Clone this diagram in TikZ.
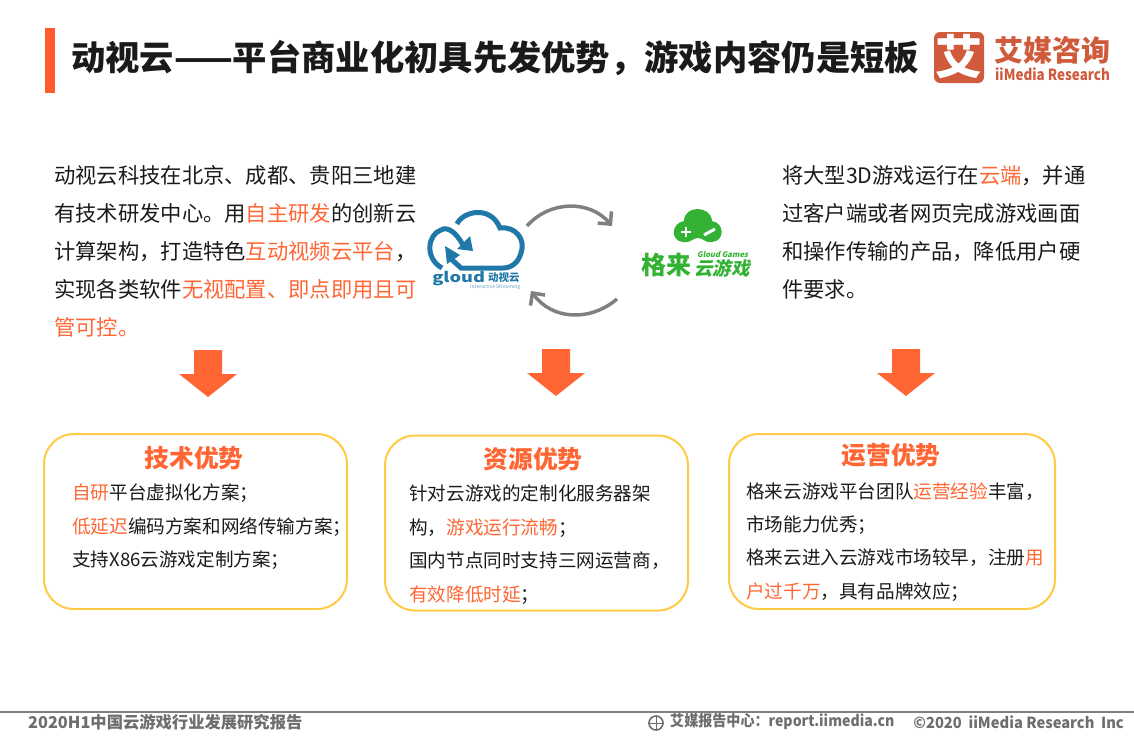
\documentclass[tikz,border=0pt]{standalone}
\usepackage{fontspec}
\setmainfont{Noto Sans CJK SC}
\newfontfamily\slantfont[FakeSlant=0.22]{Noto Sans CJK SC}
\usepackage{xcolor}
\usetikzlibrary{arrows.meta, positioning}
\definecolor{hot}{HTML}{FF6633}
\definecolor{edgey}{HTML}{FFCB45}
\definecolor{inkb}{HTML}{1A1A1A}
\definecolor{logor}{HTML}{CF5B3C}
\definecolor{cloudb}{HTML}{1F78A8}
\definecolor{cloudg}{HTML}{33B233}
\definecolor{loopg}{HTML}{808080}
\definecolor{footg}{HTML}{6E6E6E}
\newcommand{\hl}[1]{\textcolor{hot}{#1}}
\tikzset{
	para/.style={anchor=north west, inner sep=0pt, align=left, text=inkb, font=\fontsize{21.3}{38}\selectfont},
	boxtext/.style={anchor=north west, inner sep=0pt, align=left, text=inkb, font=\fontsize{18.6}{33.4}\selectfont},
	boxhead/.style={inner sep=0pt, text=hot, font=\fontsize{24.7}{28}\selectfont\bfseries},
	card/.style={draw=edgey, line width=2pt, rounded corners=30pt, minimum height=175pt, inner sep=0pt},
	loop/.style={draw=loopg, line width=3.5pt, -{Straight Barb[length=9pt,width=18pt,line width=3.5pt]}},
	foot/.style={inner sep=0pt, text=footg, font=\fontsize{15.3}{18}\selectfont\bfseries},
	bigdown/.pic={\fill[hot] (-14,-23) -- (14,-23) -- (14,1) -- (29,1) -- (0,24) -- (-29,1) -- (-14,1) -- cycle;}
}
\begin{document}
\begin{tikzpicture}[x=1pt,y=-1pt]
	\useasboundingbox (0,0) rectangle (1134,737);

	% header
	\fill [hot!90!red] (45,28) rectangle (55,93);
	\node (title) [inner sep=0pt, anchor=west, text=inkb, font=\fontsize{34.3}{38}\selectfont\bfseries] at (71,58) {动视云——平台商业化初具先发优势，游戏内容仍是短板};

	% company mark
	\node (markbox) [fill=logor, rounded corners=6pt, minimum width=50pt, minimum height=51pt, inner sep=0pt] at (959,57.5) {};
	\node (markglyph) [inner sep=0pt, text=white, font=\fontsize{47}{50}\selectfont\bfseries] at (959,57) {艾};
	\node (markcn) [inner sep=0pt, anchor=west, text=logor, font=\fontsize{29}{32}\selectfont\bfseries] at (994,50) {艾媒咨询};
	\node (markla) [inner sep=0pt, anchor=west, xscale=0.87, text=logor, font=\fontsize{15.4}{18}\selectfont\bfseries] at (995,74) {iiMedia Research};

	% intro texts
	\node (introl) [para] at (54,165) {动视云科技在北京、成都、贵阳三地建\\有技术研发中心。用\hl{自主研发}的创新云\\计算架构，打造特色\hl{互动视频云平台}，\\实现各类软件\hl{无视配置、即点即用且可}\\\hl{管可控。}};
	\node (intror) [para] at (782,165) {将大型3D游戏运行在\hl{云端}，并通\\过客户端或者网页完成游戏画面\\和操作传输的产品，降低用户硬\\件要求。};

	% blue logo
	\draw [cloudb, line width=5pt] (457,224) .. controls (462,212) and (490,204) .. (500,228) .. controls (516,226) and (526,240) .. (521,253) .. controls (518,264) and (510,268) .. (503,268) -- (461,268) -- (449,257);
	\fill [cloudb] (445,246) -- (447,264) -- (460,255) -- cycle;
	\draw [cloudb, line width=5pt] (463,245) .. controls (456,232) and (447,226) .. (441,230) .. controls (428,234) and (424,258) .. (442,268);
	\fill [cloudb] (457,249) -- (473,251) -- (470,236) -- cycle;
	\node (gloudla) [inner sep=0pt, anchor=west, text=cloudb, xscale=1.3, font=\fontsize{14}{16}\selectfont\bfseries] at (432,279) {gloud};
	\node (gloudcn) [inner sep=0pt, anchor=west, text=cloudb, font=\fontsize{10.5}{12}\selectfont\bfseries] at (488,278) {动视云};
	\node (gloudsub) [inner sep=0pt, anchor=west, text=cloudb!70, font=\fontsize{5}{6}\selectfont] at (470,287) {Interactive Streaming};

	% green logo
	\fill [cloudg] (683,242) .. controls (670,241) and (671,223) .. (684,221) .. controls (684,205) and (711,205) .. (712,221) .. controls (725,223) and (725,241) .. (712,242) .. controls (704,243) and (704,238) .. (698,238) .. controls (692,238) and (692,243) .. (683,242) -- cycle;
	\draw [white, line width=2.6pt] (681,232) -- (691,232) (686,227) -- (686,237);
	\draw [white, line width=3pt] (704,235) -- (715,229);
	\node (gamesa) [inner sep=0pt, anchor=west, text=cloudg, font=\fontsize{25}{26}\selectfont\bfseries] at (641,265) {格来};
	\node (gamesb) [inner sep=0pt, anchor=west, text=cloudg, font=\fontsize{18.5}{20}\slantfont\selectfont\bfseries] at (694,268) {云游戏};
	\node (gamesc) [inner sep=0pt, anchor=west, text=cloudg, font=\fontsize{7.6}{8}\slantfont\selectfont\bfseries] at (697,255) {Gloud Games};

	% loop arrows
	\coordinate (loopa) at (527,226);
	\coordinate (loopb) at (612,226);
	\coordinate (loopc) at (617,299);
	\coordinate (loopd) at (531,291);
	\draw [loop] (loopa) .. controls (550,200) and (590,200) .. (loopb);
	\draw [loop] (loopc) .. controls (590,322) and (552,320) .. (loopd);

	% down arrows
	\pic at (208,373) {bigdown};
	\pic at (556,372) {bigdown};
	\pic at (906,372) {bigdown};

	% cards
	\node (cardl) [card, minimum width=303pt] at (195.5,521.5) {};
	\node (cardm) [card, minimum width=303pt] at (536.5,523) {};
	\node (cardr) [card, minimum width=326pt] at (892,521.5) {};

	\node (headl) [boxhead] at (194,458) {技术优势};
	\node (headm) [boxhead] at (533,459) {资源优势};
	\node (headr) [boxhead] at (891,455) {运营优势};

	\node (textl) [boxtext] at (72,484) {\hl{自研}平台虚拟化方案；\\\hl{低延迟}编码方案和网络传输方案；\\支持X86云游戏定制方案；};
	\node (textm) [boxtext] at (409,485) {针对云游戏的定制化服务器架\\构，\hl{游戏运行流畅}；\\国内节点同时支持三网运营商，\\\hl{有效降低时延}；};
	\node (textr) [boxtext] at (746,482) {格来云游戏平台团队\hl{运营经验}丰富，\\市场能力优秀；\\格来云进入云游戏市场较早，注册\hl{用}\\\hl{户过千万}，具有品牌效应；};

	% footer
	\draw [loopg, line width=2pt] (0,712) -- (1134,712);
	\node (footl) [foot, anchor=west, font=\fontsize{16.3}{18}\selectfont\bfseries] at (28,722) {2020H1中国云游戏行业发展研究报告};
	\node (globe) [draw=footg, line width=1.6pt, circle, minimum size=14pt, inner sep=0pt] at (656,723) {};
	\draw [footg, line width=1pt] (globe.west) -- (globe.east) (globe.north) -- (globe.south);
	\node (footm) [foot, anchor=west, xscale=0.92] at (670,722) {艾媒报告中心：report.iimedia.cn};
	\node (footr) [foot, anchor=east, xscale=0.96] at (1124,722) {©2020\ \ iiMedia Research\ \ Inc};
\end{tikzpicture}
\end{document}
